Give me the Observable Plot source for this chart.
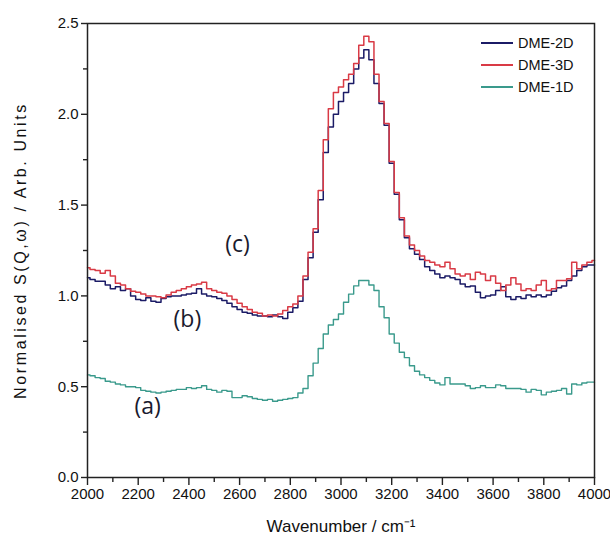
<!DOCTYPE html>
<html><head><meta charset="utf-8">
<script src="https://cdn.jsdelivr.net/npm/d3@7"></script>
<script src="https://cdn.jsdelivr.net/npm/@observablehq/plot@0.6"></script>
<style>
body{margin:0;background:#fff;font-family:"Liberation Sans",Arial,sans-serif;}
#wrap{position:relative;width:610px;height:545px;}
.legend{position:absolute;left:481px;top:32px;font-size:14.5px;color:#111;}
.legend div{display:flex;align-items:center;height:22px;}
.legend .sw{display:inline-block;width:32px;height:1.6px;margin-right:5px;}
</style></head><body><div id="wrap"></div>
<script>
const seriesNames = ["DME-2D", "DME-3D", "DME-1D"];
const seriesColors = ["#1b1b66", "#d93a45", "#3a9a8c"];
const wavenumbers = d3.range(2000, 4001, 20);
const dme2D = [
1.10,1.09,1.08,1.08,1.06,1.04,1.05,1.03,1.04,1.00,
0.98,0.975,0.99,0.97,0.965,0.985,0.995,1.00,1.00,1.005,
1.01,1.015,1.04,1.01,1.00,0.995,0.985,0.975,0.96,0.94,
0.925,0.91,0.905,0.895,0.89,0.89,0.885,0.895,0.885,0.875,
0.91,0.935,0.97,1.09,1.21,1.35,1.53,1.79,1.93,2.00,
2.07,2.12,2.17,2.25,2.31,2.355,2.30,2.17,2.06,1.94,
1.73,1.56,1.42,1.32,1.26,1.23,1.20,1.16,1.14,1.12,
1.10,1.11,1.10,1.09,1.065,1.05,1.055,1.02,0.99,1.00,
1.005,1.03,1.05,0.995,0.98,0.995,0.985,1.005,0.995,1.005,
0.995,1.005,1.025,1.045,1.055,1.085,1.11,1.14,1.16,1.17,
1.17];
const dme3D = [
1.155,1.145,1.14,1.125,1.14,1.11,1.07,1.06,1.04,1.025,
1.02,1.01,1.00,1.00,0.995,0.99,1.005,1.02,1.03,1.04,
1.05,1.06,1.065,1.075,1.04,1.03,1.02,1.015,1.00,0.98,
0.96,0.94,0.925,0.91,0.905,0.89,0.895,0.89,0.90,0.92,
0.94,0.955,1.00,1.11,1.24,1.37,1.58,1.86,2.03,2.12,
2.15,2.19,2.22,2.28,2.38,2.43,2.40,2.22,2.07,1.95,
1.74,1.57,1.43,1.33,1.28,1.25,1.22,1.195,1.185,1.17,
1.16,1.185,1.15,1.12,1.11,1.12,1.09,1.13,1.12,1.085,
1.11,1.07,1.03,1.06,1.10,1.065,1.03,1.04,1.03,1.06,
1.085,1.03,1.04,1.085,1.085,1.095,1.185,1.15,1.17,1.185,
1.195];
const dme1D = [
0.565,0.56,0.55,0.545,0.53,0.525,0.515,0.51,0.50,0.50,
0.495,0.48,0.475,0.47,0.465,0.47,0.475,0.48,0.485,0.485,
0.495,0.49,0.495,0.505,0.485,0.48,0.47,0.48,0.475,0.44,
0.44,0.45,0.445,0.435,0.43,0.425,0.43,0.42,0.425,0.43,
0.435,0.44,0.465,0.49,0.56,0.63,0.71,0.79,0.84,0.87,
0.90,0.965,1.01,1.055,1.085,1.085,1.06,1.03,0.94,0.88,
0.79,0.74,0.69,0.66,0.615,0.585,0.565,0.55,0.535,0.52,
0.51,0.55,0.515,0.515,0.515,0.505,0.49,0.495,0.505,0.495,
0.495,0.51,0.505,0.49,0.49,0.49,0.485,0.47,0.485,0.48,
0.455,0.47,0.475,0.48,0.49,0.46,0.515,0.51,0.52,0.525,
0.525];
const xMajorTicks = d3.range(2000, 4001, 200);
const xMinorTicks = d3.range(2100, 4000, 200);
const yMajorTicks = [0, 0.5, 1.0, 1.5, 2.0, 2.5];
const yMinorTicks = [0.25, 0.75, 1.25, 1.75, 2.25];
const annotations = [
  {x: 2592, y: 1.285, text: "(c)"},
  {x: 2394, y: 0.87, text: "(b)"},
  {x: 2237, y: 0.39, text: "(a)"}
];
const xLabel = "Wavenumber / cm\u207B\u00B9";
const yLabel = "Normalised S(Q,\u03C9) / Arb. Units";

const seriesValues = [dme2D, dme3D, dme1D];
const table = seriesNames.map((name, i) => wavenumbers.map((x, j) => ({x, y: seriesValues[i][j], series: name})));

const plot = Plot.plot({
  width: 610, height: 545,
  marginLeft: 87, marginRight: 16, marginTop: 23, marginBottom: 68,
  style: {fontFamily: "'Liberation Sans', Arial, sans-serif", fontSize: "15px", background: "white", color: "#111"},
  x: {domain: [2000, 4000], label: null},
  y: {domain: [0, 2.5], label: null},
  marks: [
    ...table.map((d, i) => Plot.line(d, {x: "x", y: "y", curve: "step", stroke: seriesColors[i], strokeWidth: i === 2 ? 1.4 : 1.5})),
    Plot.frame({stroke: "#222", strokeWidth: 1.5}),
    Plot.axisX({ticks: xMajorTicks, tickSize: 8, tickPadding: 3, tickFormat: d => String(d), fontSize: 15, stroke: "#222", strokeWidth: 1.4}),
    Plot.axisX({ticks: xMinorTicks, tickSize: 5, tickFormat: () => "", stroke: "#222", strokeWidth: 1.4}),
    Plot.axisY({ticks: yMajorTicks, tickSize: 6, tickPadding: 3, tickFormat: d3.format(".1f"), fontSize: 15, stroke: "#222", strokeWidth: 1.4}),
    Plot.axisY({ticks: yMinorTicks, tickSize: 4, tickFormat: () => "", stroke: "#222", strokeWidth: 1.4}),
    Plot.text(annotations, {x: "x", y: "y", text: "text", fontSize: 23, fontFamily: "'Open Sans', 'Noto Sans', sans-serif", fill: "#1a1a2e"}),
    Plot.text([xLabel], {frameAnchor: "bottom", dy: 54, fontSize: 17, fill: "#111"}),
    Plot.text([yLabel], {frameAnchor: "left", textAnchor: "middle", dx: -67, rotate: -90, fontSize: 16, fill: "#111"})
  ]
});
d3.select(plot).selectAll("text").filter(function(){ return this.textContent === yLabel; }).style("letter-spacing", "2.6px");
const wrap = document.getElementById("wrap");
wrap.appendChild(plot);
const legend = document.createElement("div");
legend.className = "legend";
seriesNames.forEach((name, i) => {
  const row = document.createElement("div");
  const sw = document.createElement("span");
  sw.className = "sw";
  sw.style.background = seriesColors[i];
  row.appendChild(sw);
  row.appendChild(document.createTextNode(name));
  legend.appendChild(row);
});
wrap.appendChild(legend);
</script></body></html>
